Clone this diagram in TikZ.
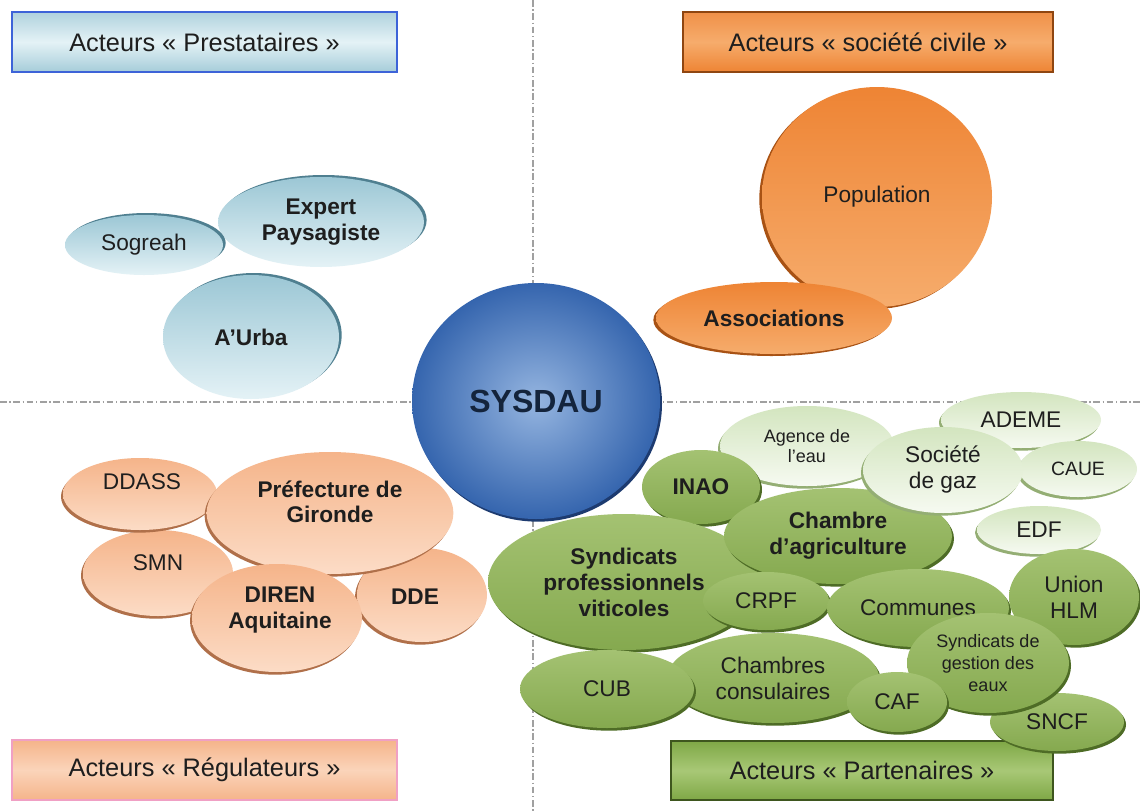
\documentclass[tikz,border=0pt]{standalone}
\usepackage{fontspec}
\setmainfont{Liberation Sans}
\usetikzlibrary{shapes.geometric,shadows}
\newcommand\fsz[2]{\fontsize{#1}{#2}\selectfont}
\definecolor{txt}{HTML}{1E1E1E}
\definecolor{bl1}{HTML}{9CC7D5}
\definecolor{bl2}{HTML}{E4F2F6}
\definecolor{bl3}{HTML}{4F7F90}
\definecolor{or1}{HTML}{EE8434}
\definecolor{or2}{HTML}{F6AC6C}
\definecolor{or3}{HTML}{A85214}
\definecolor{pe1}{HTML}{F5B48A}
\definecolor{pe2}{HTML}{FCDCC6}
\definecolor{pe3}{HTML}{B0704A}
\definecolor{gd1}{HTML}{7FA846}
\definecolor{gd2}{HTML}{A8C876}
\definecolor{gdt}{HTML}{A4C272}
\definecolor{gdm}{HTML}{B2CE88}
\definecolor{gdb}{HTML}{85A94F}
\definecolor{gd3}{HTML}{4E6C26}
\definecolor{gl1}{HTML}{D3E5BF}
\definecolor{gl2}{HTML}{F6FAF1}
\definecolor{gl3}{HTML}{94AE74}
\definecolor{sy1}{HTML}{95B5E0}
\definecolor{sy2}{HTML}{3565AE}
\definecolor{sy3}{HTML}{1D3B70}
\definecolor{sytx}{HTML}{14243C}
\definecolor{bxb}{HTML}{3D63D8}
\definecolor{bxp}{HTML}{F0A0C4}
\definecolor{lin}{HTML}{A0A0A0}
\tikzset{
  bub/.style={ellipse, inner sep=0pt, outer sep=0pt, align=center, text=txt, font=\fsz{17}{19.5}},
  bd/.style={font=\fsz{17}{19.5}\bfseries},
  sm/.style={font=\fsz{13.5}{15.5}},
  lbl/.style={inner sep=0pt, align=center, text=txt, font=\fsz{17}{19}},
  blueb/.style={bub, top color=bl1, bottom color=bl2, preaction={fill=bl3, transform canvas={shift={(2pt,1.5pt)}}}},
  orab/.style={bub, top color=or1, bottom color=or2, preaction={fill=or3, transform canvas={shift={(-2pt,-1.5pt)}}}},
  peab/.style={bub, top color=pe1, bottom color=pe2, preaction={fill=pe3, transform canvas={shift={(-1.5pt,-2pt)}}}},
  gdb/.style={bub, top color=gdt, middle color=gdm, bottom color=gdb, preaction={fill=gd3, transform canvas={shift={(1.5pt,-2pt)}}}},
  glb/.style={bub, top color=gl1, bottom color=gl2, preaction={fill=gl3, transform canvas={shift={(-1.5pt,-2pt)}}}},
  abox/.style={rectangle, inner sep=0pt, line width=1.5pt, text=txt, font=\fsz{19}{22}},
  dline/.style={draw=lin, line width=0.8pt, dash pattern=on 5pt off 2pt on 1pt off 2pt}
}
\begin{document}
\begin{tikzpicture}[x=0.75pt,y=-0.75pt]
\useasboundingbox (0,0) rectangle (1140,811);
\fill[white] (0,0) rectangle (1140,811);

% axes
\coordinate (vt) at (533,0);
\coordinate (vb) at (533,811);
\coordinate (hl) at (0,402);
\coordinate (hr) at (1140,402);
\draw[dline] (vt) -- (vb);
\draw[dline] (hl) -- (hr);

% title boxes
\node[abox, draw=bxb, minimum width=288.75pt, minimum height=45pt,
  top color=bl1!80, bottom color=bl1!90, middle color=bl2] (bpre) at (204.5,42) {Acteurs « Prestataires »};
\node[abox, draw=or3!85!black, minimum width=277.5pt, minimum height=45pt,
  top color=or1!90, bottom color=or1, middle color=or2] (bciv) at (868,42) {Acteurs « société civile »};
\node[abox, draw=bxp, minimum width=288.75pt, minimum height=45pt,
  top color=pe1, bottom color=pe1, middle color=pe2!80!pe1] (breg) at (204.5,770) {Acteurs « Régulateurs »};
\node[abox, draw=gd3!80!black, minimum width=286.5pt, minimum height=44.25pt,
  top color=gd1, bottom color=gd1, middle color=gd2] (bpar) at (862,770.5) {Acteurs « Partenaires »};

% prestataires
\node[blueb, bd, minimum width=154.5pt, minimum height=67.5pt] (expert) at (321,222) {Expert\\Paysagiste};
\node[blueb, minimum width=118.5pt, minimum height=45pt] (sogreah) at (144,245) {Sogreah};
\node[blueb, bd, minimum width=132pt, minimum height=93pt] (aurba) at (251,337) {A’Urba};

% societe civile
\node[orab, minimum width=172.5pt, minimum height=165pt] (population) at (877,197) {Population};
\node[orab, bd, minimum width=177pt, minimum height=54pt] (assoc) at (774,318) {Associations};

% regulateurs
\node[peab, minimum width=97.5pt, minimum height=70.5pt] (dde) at (422,595) {};
\node[lbl, font=\fsz{17}{19}\bfseries] (ddet) at (415,597) {DDE};
\node[peab, minimum width=112.5pt, minimum height=64.5pt] (smn) at (158,573) {};
\node[lbl] (smnt) at (158,563) {SMN};
\node[peab, minimum width=115.5pt, minimum height=54pt] (ddass) at (140,494) {};
\node[lbl] (ddasst) at (142,482) {DDASS};
\node[peab, minimum width=185pt, minimum height=91.5pt] (pref) at (330,513) {};
\node[lbl, font=\fsz{17}{19}\bfseries] (preft) at (330,502) {Préfecture de\\Gironde};
\node[peab, minimum width=127.5pt, minimum height=81pt] (diren) at (277,618) {};
\node[lbl, font=\fsz{17}{19}\bfseries] (dirent) at (280,610) {DIREN\\Aquitaine};

% partenaires
\node[glb, sm, minimum width=130.5pt, minimum height=60pt] (agence) at (807,446) {Agence de\\l'eau};
\node[gdb, bd, minimum width=88.5pt, minimum height=55.5pt] (inao) at (701,487) {INAO};
\node[gdb, bd, minimum width=204pt, minimum height=102pt] (synd) at (624,582) {Syndicats\\professionnels\\viticoles};
\node[glb, minimum width=120pt, minimum height=42pt] (ademe) at (1021,420) {ADEME};
\node[glb, font=\fsz{14.5}{17}, minimum width=88.5pt, minimum height=42pt] (caue) at (1078,469) {CAUE};
\node[gdb, bd, minimum width=171pt, minimum height=72pt] (chambre) at (838,536) {Chambre\\d’agriculture};
\node[glb, minimum width=120pt, minimum height=64.5pt] (societe) at (943,470) {Société\\de gaz};
\node[glb, minimum width=93pt, minimum height=36pt] (edf) at (1039,530) {EDF};
\node[gdb, minimum width=94.5pt, minimum height=43.5pt] (crpf) at (766,601) {CRPF};
\node[gdb, minimum width=136.5pt, minimum height=58.5pt] (communes) at (918,608) {Communes};
\node[gdb, minimum width=97.5pt, minimum height=72pt] (union) at (1074,597) {Union\\HLM};
\node[gdb, minimum width=100.5pt, minimum height=43.5pt] (sncf) at (1057,722) {SNCF};
\node[gdb, font=\fsz{13.5}{16.5}, minimum width=121.5pt, minimum height=75pt] (gestion) at (988,663) {Syndicats de\\gestion des\\eaux};
\node[gdb, minimum width=159pt, minimum height=67.5pt] (consul) at (773,678) {Chambres\\consulaires};
\node[gdb, minimum width=130.5pt, minimum height=58.5pt] (cub) at (607,689) {CUB};
\node[gdb, minimum width=75pt, minimum height=45pt] (caf) at (897,702) {CAF};

% centre
\node[ellipse, inner sep=0pt, minimum width=186pt, minimum height=177pt, inner color=sy1, outer color=sy2,
  preaction={fill=sy3, transform canvas={shift={(1.5pt,-2pt)}}},
  text=sytx, font=\fsz{24}{26}\bfseries] (sysdau) at (536,401) {SYSDAU};
\end{tikzpicture}
\end{document}
